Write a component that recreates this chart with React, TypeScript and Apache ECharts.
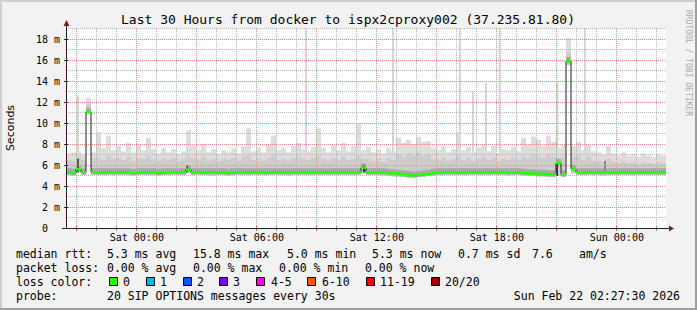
import React, { useEffect, useRef } from 'react';
import * as echarts from 'echarts';

// time axis in hours relative to Sat 00:00
const START_HOUR = -3.541667; // Fri 20:27:30
const END_HOUR = 26.458333; // Sun 02:27:30
const STEP_HOURS = 0.25;

const xTickHours = [0, 6, 12, 18, 24];
const xTickLabels = ['Sat 00:00', 'Sat 06:00', 'Sat 12:00', 'Sat 18:00', 'Sun 00:00'];
const majorHours = [-3, 0, 3, 6, 9, 12, 15, 18, 21, 24];
const minorHours = [-2, -1, 1, 2, 4, 5, 7, 8, 10, 11, 13, 14, 16, 17, 19, 20, 22, 23, 25, 26];
const majorValues = [2, 4, 6, 8, 10, 12, 14, 16, 18];
const minorValues = [1, 3, 5, 7, 9, 11, 13, 15, 17, 19];

// median rtt per step (ms)
const median = [
  5.3, 5.25, 5.6, 5.3, 11.05, 5.3, 5.3, 5.3, 5.3, 5.3,
  5.3, 5.3, 5.3, 5.25, 5.3, 5.3, 5.3, 5.3, 5.25, 5.3,
  5.3, 5.3, 5.3, 5.3, 5.55, 5.3, 5.3, 5.3, 5.3, 5.3,
  5.3, 5.3, 5.25, 5.3, 5.3, 5.3, 5.3, 5.3, 5.3, 5.3,
  5.3, 5.3, 5.3, 5.3, 5.3, 5.3, 5.3, 5.3, 5.3, 5.3,
  5.3, 5.3, 5.3, 5.3, 5.3, 5.3, 5.3, 5.3, 5.3, 5.75,
  5.3, 5.3, 5.3, 5.3, 5.25, 5.2, 5.15, 5.1, 5.05, 5.0,
  5.05, 5.1, 5.15, 5.25, 5.3, 5.3, 5.3, 5.3, 5.3, 5.3,
  5.3, 5.3, 5.3, 5.3, 5.3, 5.3, 5.3, 5.3, 5.3, 5.3,
  5.3, 5.25, 5.2, 5.2, 5.15, 5.15, 5.1, 5.1, 6.2, 5.1,
  15.9, 5.6, 5.3, 5.3, 5.3, 5.3, 5.3, 5.3, 5.3, 5.3,
  5.3, 5.3, 5.3, 5.3, 5.3, 5.3, 5.3, 5.3, 5.3, 5.3,
];

// lowest ping per step (ms)
const smokeLow = [
  5.05, 5.0, 5.3, 5.05, 10.9, 5.1, 5.05, 5.05, 5.1, 5.05,
  5.05, 5.1, 5.05, 5.0, 5.05, 5.1, 5.05, 5.05, 5.0, 5.05,
  5.05, 5.1, 5.05, 5.05, 5.2, 5.05, 5.1, 5.05, 5.05, 5.0,
  5.05, 5.05, 5.0, 5.05, 5.1, 5.05, 5.05, 5.1, 5.05, 5.05,
  5.05, 5.1, 5.05, 5.05, 5.0, 5.05, 5.05, 5.1, 5.05, 5.05,
  5.05, 5.1, 5.05, 5.05, 5.05, 5.1, 5.05, 5.05, 5.05, 5.2,
  5.05, 5.05, 5.05, 5.0, 4.95, 4.9, 4.85, 4.85, 4.8, 4.8,
  4.85, 4.9, 4.95, 5.0, 5.05, 5.05, 5.1, 5.05, 5.05, 5.05,
  5.05, 5.1, 5.05, 5.05, 5.05, 5.1, 5.05, 5.05, 5.0, 5.05,
  5.05, 5.0, 4.95, 4.95, 4.9, 4.9, 4.9, 4.85, 4.95, 4.9,
  15.5, 5.2, 5.05, 5.05, 5.1, 5.05, 5.05, 5.0, 5.05, 5.05,
  5.05, 5.1, 5.05, 5.05, 5.05, 5.1, 5.05, 5.05, 5.05, 5.05,
];

// upper part of the dense smoke (ms)
const smokeUpper = [
  6.5, 6.4, 6.8, 6.5, 11.8, 6.6, 6.7, 6.5, 6.9, 6.6,
  6.7, 6.5, 6.8, 6.4, 6.7, 6.6, 6.9, 6.5, 6.4, 6.6,
  6.5, 6.7, 6.4, 6.6, 6.9, 6.7, 6.5, 6.8, 6.4, 6.6,
  6.4, 6.6, 6.5, 6.7, 6.4, 6.8, 6.9, 6.5, 6.6, 6.4,
  6.7, 6.9, 6.5, 6.6, 6.4, 6.7, 6.8, 6.6, 6.5, 6.7,
  6.9, 6.6, 6.4, 6.7, 6.5, 6.8, 6.5, 6.6, 6.9, 6.6,
  6.6, 6.4, 6.6, 6.3, 6.7, 6.5, 7.0, 6.8, 7.1, 6.9,
  7.2, 6.9, 7.0, 6.6, 6.5, 6.7, 6.4, 6.6, 6.9, 6.5,
  6.7, 6.4, 6.6, 6.8, 6.5, 6.7, 6.4, 6.6, 6.5, 6.7,
  6.5, 6.9, 6.7, 7.0, 6.8, 6.7, 7.0, 6.8, 6.6, 6.8,
  16.8, 6.8, 6.9, 6.5, 6.8, 6.4, 6.4, 6.3, 6.6, 6.3,
  6.2, 6.4, 6.2, 6.3, 6.1, 6.3, 6.2, 6.1, 6.3, 6.2,
];

// highest ping per step (ms)
const smokeTop = [
  7.1, 7.2, 7.3, 7.0, 12.4, 7.2, 9.1, 7.6, 8.8, 7.4,
  7.8, 7.3, 8.1, 7.2, 7.9, 7.4, 8.6, 7.5, 7.1, 7.6,
  7.2, 7.5, 7.0, 7.3, 9.3, 7.8, 7.4, 8.0, 7.2, 7.5,
  7.0, 7.4, 7.2, 7.6, 7.1, 7.8, 9.5, 7.3, 7.6, 7.2,
  7.9, 8.8, 7.4, 7.6, 7.2, 7.8, 8.1, 7.5, 7.3, 7.7,
  9.5, 7.6, 7.2, 7.9, 7.4, 8.1, 7.3, 7.8, 10.0, 7.4,
  7.7, 7.2, 7.5, 7.1, 7.6, 7.3, 8.6, 8.1, 8.4, 8.0,
  8.7, 8.2, 8.3, 7.6, 7.4, 7.8, 7.2, 7.5, 9.1, 7.4,
  7.7, 7.2, 7.6, 7.9, 7.3, 7.8, 7.1, 7.5, 7.4, 7.7,
  7.3, 8.6, 7.9, 8.7, 8.4, 7.8, 8.8, 8.2, 7.6, 7.9,
  18.1, 7.8, 8.2, 7.4, 7.9, 7.3, 7.2, 7.0, 7.8, 7.1,
  6.9, 7.2, 6.9, 7.0, 6.8, 7.1, 6.9, 6.8, 7.0, 6.9,
];

// isolated tall single-ping spikes
const spikeHours = [-2.96, 8.48, 12.79, 16.14, 16.81, 17.46, 18.14, 21.01, 22.43];
const spikeTops = [12.6, 19, 19, 19, 13.0, 13.8, 19, 14.0, 19];

// dark dense columns near events
const darkHours = [-2.96, 2.51, 11.34, 21.01, 23.4];
const darkBottoms = [5.3, 5.3, 5.3, 4.95, 5.3];
const darkTops = [6.6, 6.0, 6.0, 6.3, 6.4];
const darkShades = ['#555555', '#666666', '#333333', '#333333', '#8a8a8a'];

const rttStats = ['5.3 ms avg', '15.8 ms max', '5.0 ms min', '5.3 ms now', '0.7 ms sd', '7.6', 'am/s'];
const lossStats = ['0.00 % avg', '0.00 % max', '0.00 % min', '0.00 % now'];
const lossLabels = ['0', '1', '2', '3', '4-5', '6-10', '11-19', '20/20'];
const lossColors = ['#26ff00', '#00b8ff', '#0059ff', '#7e00ff', '#ff00ff', '#ff5500', '#ff0000', '#a10000'];

const MONO = '"DejaVu Sans Mono", monospace';
const GRID_MINOR = '#b4b4b4';
const GRID_MAJOR = '#ec8c8c';

function vGridSeries(hours: number[], color: string, tickColor: string, z: number) {
  return {
    type: 'custom',
    z,
    silent: true,
    data: hours.map((h) => [h, 0]),
    encode: { x: 0, y: 1 },
    renderItem: (params: any, api: any) => {
      const cs = params.coordSys;
      const x = Math.floor(api.coord([api.value(0), 0])[0]) + 0.5;
      const yTop = Math.ceil(cs.y);
      const yBot = Math.round(cs.y + cs.height);
      return {
        type: 'group',
        children: [
          { type: 'line', shape: { x1: x, y1: yTop, x2: x, y2: yBot }, style: { stroke: color, lineWidth: 1, lineDash: [1, 1] } },
          { type: 'line', shape: { x1: x, y1: yBot - 2, x2: x, y2: yBot + 3 }, style: { stroke: tickColor, lineWidth: 1 } },
        ],
      };
    },
  };
}

function hGridSeries(values: number[], color: string, withTick: boolean, z: number) {
  return {
    type: 'custom',
    z,
    silent: true,
    data: values.map((v) => [START_HOUR, v]),
    encode: { x: 0, y: 1 },
    renderItem: (params: any, api: any) => {
      const cs = params.coordSys;
      const y = Math.floor(api.coord([START_HOUR, api.value(1)])[1]) + 0.5;
      const children: any[] = [
        { type: 'line', shape: { x1: Math.round(cs.x), y1: y, x2: Math.round(cs.x + cs.width), y2: y }, style: { stroke: color, lineWidth: 1, lineDash: [1, 1] } },
      ];
      if (withTick) {
        children.push({ type: 'line', shape: { x1: cs.x - 2, y1: y, x2: cs.x + 2, y2: y }, style: { stroke: '#1f1f1f', lineWidth: 1 } });
      }
      return { type: 'group', children };
    },
  };
}

export default function App() {
  const ref = useRef<HTMLDivElement>(null);

  useEffect(() => {
    if (!ref.current) return;
    const chart = echarts.init(ref.current, null, { renderer: 'svg' });

    const steps = median.map((m, i) => {
      const t0 = START_HOUR + i * STEP_HOURS;
      return [t0, t0 + STEP_HOURS, smokeLow[i], smokeUpper[i], smokeTop[i], m];
    });
    const medianLine = median.map((m, i) => [START_HOUR + i * STEP_HOURS, m]);
    medianLine.push([END_HOUR, median[median.length - 1]]);

    const rowY = [254, 268, 282, 296];
    const rttX = [107, 193, 287, 372, 458, 532, 579];
    const lossX = [107, 193, 279, 365];
    const boxX = [109, 146, 183, 219, 256, 307, 366, 431];
    const labX = [123, 160, 197, 233, 271, 322, 380, 445];

    const txt = (text: string, x: number, y: number, extra: any = {}) => ({
      type: 'text',
      x,
      y,
      silent: true,
      style: {
        text,
        font: `11.5px ${MONO}`,
        fill: '#000',
        align: 'left',
        verticalAlign: 'middle',
        ...extra,
      },
    });

    const graphics: any[] = [
      { type: 'line', shape: { x1: 0, y1: 1, x2: 697, y2: 1 }, style: { stroke: '#cfcfcf', lineWidth: 2 } },
      { type: 'line', shape: { x1: 1, y1: 0, x2: 1, y2: 310 }, style: { stroke: '#cfcfcf', lineWidth: 2 } },
      { type: 'line', shape: { x1: 0, y1: 309, x2: 697, y2: 309 }, style: { stroke: '#9e9e9e', lineWidth: 2 } },
      { type: 'line', shape: { x1: 696, y1: 0, x2: 696, y2: 310 }, style: { stroke: '#9e9e9e', lineWidth: 2 } },
      {
        type: 'text', x: 348, y: 19, silent: true,
        style: { text: 'Last 30 Hours from docker to ispx2cproxy002 (37.235.81.80)', font: `13px ${MONO}`, fill: '#000', align: 'center', verticalAlign: 'middle' },
      },
      {
        type: 'text', x: 10, y: 128, rotation: Math.PI / 2, silent: true,
        style: { text: 'Seconds', font: '11px "DejaVu Sans", sans-serif', fill: '#000', align: 'center', verticalAlign: 'middle' },
      },
      {
        type: 'text', x: 688, y: 63, rotation: -Math.PI / 2, silent: true,
        style: { text: 'RRDTOOL / TOBI OETIKER', font: `8px ${MONO}`, fill: '#aaaaaa', align: 'center', verticalAlign: 'middle' },
      },
      { type: 'line', shape: { x1: 66.5, y1: 25, x2: 66.5, y2: 29 }, style: { stroke: '#1f1f1f', lineWidth: 1 }, z: 20 },
      { type: 'polygon', shape: { points: [[63.5, 26], [69.5, 26], [66.5, 20]] }, style: { fill: '#801f1f' }, z: 20 },
      { type: 'line', shape: { x1: 62, y1: 228.5, x2: 67, y2: 228.5 }, style: { stroke: '#1f1f1f', lineWidth: 1 }, z: 20 },
      { type: 'line', shape: { x1: 665, y1: 228.5, x2: 670, y2: 228.5 }, style: { stroke: '#1f1f1f', lineWidth: 1 }, z: 20 },
      { type: 'polygon', shape: { points: [[669, 225.5], [669, 231.5], [674, 228.5]] }, style: { fill: '#801f1f' }, z: 20 },
      txt('median rtt:', 16, rowY[0]),
      ...rttStats.map((s, k) => txt(s, rttX[k], rowY[0])),
      txt('packet loss:', 16, rowY[1]),
      ...lossStats.map((s, k) => txt(s, lossX[k], rowY[1])),
      txt('loss color:', 16, rowY[2]),
      ...lossColors.map((c, k) => ({
        type: 'rect', silent: true,
        shape: { x: boxX[k] + 0.5, y: rowY[2] - 4.5, width: 8, height: 8 },
        style: { fill: c, stroke: '#000', lineWidth: 1 },
      })),
      ...lossLabels.map((s, k) => txt(s, labX[k], rowY[2])),
      txt('probe:', 16, rowY[3]),
      txt('20 SIP OPTIONS messages every 30s', 107, rowY[3]),
      txt('Sun Feb 22 02:27:30 2026', 680, rowY[3], { align: 'right' }),
    ];

    const option: any = {
      animation: false,
      backgroundColor: '#f2f2f2',
      grid: {
        left: 66,
        right: 31,
        top: 28.5,
        bottom: 82,
        show: true,
        backgroundColor: '#ffffff',
        borderWidth: 0,
      },
      xAxis: {
        type: 'value',
        min: START_HOUR,
        max: END_HOUR,
        z: 10,
        axisLine: { show: true, onZero: false, lineStyle: { color: '#1f1f1f', width: 1 } },
        axisTick: { show: false },
        splitLine: { show: false },
        axisLabel: {
          customValues: xTickHours,
          formatter: (v: number) => {
            const k = xTickHours.findIndex((h) => Math.abs(h - v) < 1e-6);
            return k >= 0 ? xTickLabels[k] : '';
          },
          fontFamily: MONO,
          fontSize: 10,
          color: '#000',
          margin: 4,
        },
      },
      yAxis: {
        type: 'value',
        min: 0,
        max: 19,
        interval: 2,
        z: 10,
        axisLine: { show: true, onZero: false, lineStyle: { color: '#1f1f1f', width: 1 } },
        axisTick: { show: false },
        splitLine: { show: false },
        axisLabel: {
          showMaxLabel: false,
          formatter: (v: number) => (v === 0 ? '{z|0}' : `${v} m`),
          rich: { z: { fontFamily: MONO, fontSize: 10, color: '#000', padding: [0, 12, 0, 0] } },
          fontFamily: MONO,
          fontSize: 10,
          color: '#000',
          margin: 6,
        },
      },
      graphic: graphics,
      series: [
        {
          type: 'custom',
          name: 'spikes',
          z: 1,
          silent: true,
          data: spikeHours.map((h, k) => [h, spikeTops[k]]),
          encode: { x: 0, y: 1 },
          renderItem: (params: any, api: any) => {
            const p = api.coord([api.value(0), api.value(1)]);
            const b = api.coord([api.value(0), 5.2]);
            return {
              type: 'rect',
              shape: { x: Math.round(p[0]) - 1, y: p[1], width: 2, height: b[1] - p[1] },
              style: { fill: '#d6d6d6' },
            };
          },
        },
        {
          type: 'custom',
          name: 'smoke',
          z: 1,
          silent: true,
          data: steps,
          encode: { x: 0, y: 4 },
          renderItem: (params: any, api: any) => {
            const t0 = api.value(0);
            const t1 = api.value(1);
            const x0 = api.coord([t0, 0])[0];
            const x1 = api.coord([t1, 0])[0];
            const yOf = (v: number) => api.coord([t0, v])[1];
            const low = api.value(2);
            const up = api.value(3);
            const top = api.value(4);
            const med = api.value(5);
            const rect = (a: number, b: number, fill: string) => ({
              type: 'rect',
              shape: { x: x0, y: yOf(b), width: x1 - x0, height: Math.max(0, yOf(a) - yOf(b)) },
              style: { fill },
            });
            return {
              type: 'group',
              children: [
                rect(low, top, '#dddddd'),
                rect(low, up, '#cdcdcd'),
                rect(Math.max(low, med - 0.2), Math.min(up, med + 0.4), '#a9a9a9'),
              ],
            };
          },
        },
        {
          type: 'custom',
          name: 'dark',
          z: 1,
          silent: true,
          data: darkHours.map((h, k) => [h, darkBottoms[k], darkTops[k], k]),
          encode: { x: 0, y: 2 },
          renderItem: (params: any, api: any) => {
            const p = api.coord([api.value(0), api.value(2)]);
            const b = api.coord([api.value(0), api.value(1)]);
            return {
              type: 'rect',
              shape: { x: Math.round(p[0]) - 1, y: p[1], width: 2, height: b[1] - p[1] },
              style: { fill: darkShades[api.value(3)] },
            };
          },
        },
        vGridSeries(minorHours, GRID_MINOR, '#909090', 2),
        hGridSeries(minorValues, GRID_MINOR, false, 2),
        vGridSeries(majorHours, GRID_MAJOR, '#e06060', 2),
        hGridSeries(majorValues, GRID_MAJOR, true, 2),
        {
          type: 'line',
          name: 'median',
          z: 3,
          silent: true,
          step: 'end',
          symbol: 'none',
          data: medianLine,
          lineStyle: { color: '#202020', width: 1 },
        },
        {
          type: 'custom',
          name: 'loss',
          z: 4,
          silent: true,
          data: steps,
          encode: { x: 0, y: 5 },
          renderItem: (params: any, api: any) => {
            const t0 = api.value(0);
            const t1 = api.value(1);
            const med = api.value(5);
            const a = api.coord([t0, med + 0.13]);
            const b = api.coord([t1, med - 0.13]);
            return {
              type: 'rect',
              shape: { x: a[0], y: a[1], width: b[0] - a[0], height: b[1] - a[1] },
              style: { fill: lossColors[0] },
            };
          },
        },
      ],
    };

    chart.setOption(option);
    return () => chart.dispose();
  }, []);

  return <div ref={ref} style={{ position: 'fixed', left: 0, top: 0, width: 697, height: 310 }} />;
}
